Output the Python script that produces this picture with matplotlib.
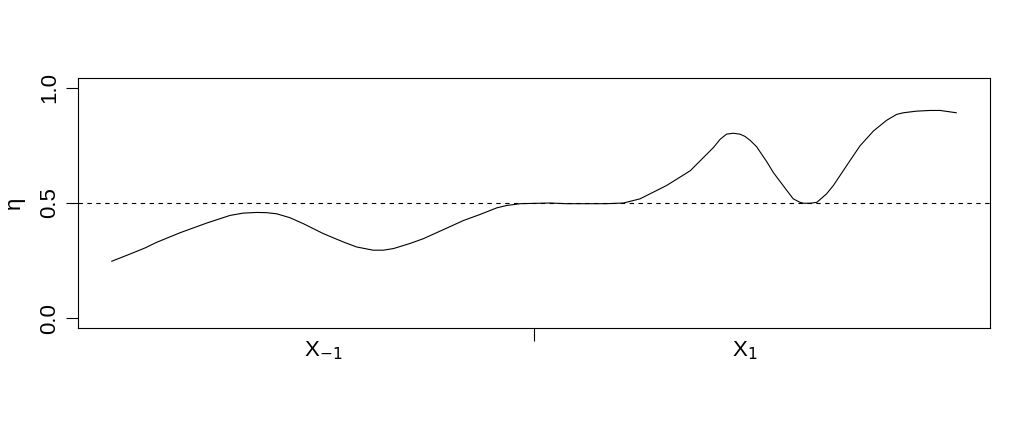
import matplotlib.pyplot as plt

plt.rcParams['font.family'] = ['Liberation Sans', 'DejaVu Sans']

# curve
x_vals = [-1.0, -0.949, -0.921, -0.894, -0.838, -0.775, -0.720, -0.689, -0.657, -0.633,
          -0.609, -0.578, -0.546, -0.499, -0.452, -0.420, -0.381, -0.357, -0.333, -0.294,
          -0.262, -0.215, -0.167, -0.128, -0.088, -0.065, -0.033, 0.038, 0.077, 0.172,
          0.212, 0.251, 0.314, 0.370, 0.425, 0.441, 0.456, 0.472, 0.488, 0.500,
          0.512, 0.527, 0.551, 0.567, 0.599, 0.614, 0.630, 0.638, 0.654, 0.670,
          0.693, 0.709, 0.748, 0.772, 0.804, 0.835, 0.859, 0.875, 0.906, 0.938,
          0.962, 0.985, 1.0]
eta_vals = [0.247, 0.284, 0.305, 0.329, 0.371, 0.413, 0.446, 0.456, 0.459, 0.458,
            0.453, 0.436, 0.410, 0.367, 0.331, 0.309, 0.295, 0.295, 0.302, 0.324,
            0.345, 0.384, 0.424, 0.450, 0.479, 0.489, 0.497, 0.500, 0.497, 0.497,
            0.500, 0.518, 0.576, 0.640, 0.741, 0.777, 0.799, 0.803, 0.799, 0.789,
            0.772, 0.745, 0.680, 0.632, 0.554, 0.518, 0.503, 0.499, 0.499, 0.503,
            0.540, 0.576, 0.683, 0.748, 0.813, 0.859, 0.885, 0.892, 0.899, 0.902,
            0.902, 0.896, 0.892]
y_ticks = [0.0, 0.5, 1.0]
y_tick_labels = ['0.0', '0.5', '1.0']
group_pos = [-0.5, 0.5]
group_labels = ['X$_{\u22121}$', 'X$_1$']
ref_level = 0.5

fig = plt.figure(figsize=(10.29, 4.26), dpi=100)
ax = fig.add_axes([78 / 1029, 98 / 426, 912 / 1029, 250 / 426])

ax.plot(x_vals, eta_vals, color='black', lw=0.8)
ax.axhline(ref_level, color='black', lw=0.8, linestyle=(0, (4, 4)))

ax.set_xlim(-1.08, 1.08)
ax.set_ylim(-0.043, 1.043)

ax.set_yticks(y_ticks)
ax.set_yticklabels(y_tick_labels, rotation=90, va='center', fontsize=16)
ax.tick_params(axis='y', length=9, width=0.8, pad=4)

ax.set_xticks([0.0])
ax.set_xticklabels([''])
ax.tick_params(axis='x', length=9, width=0.8)
for pos, lab in zip(group_pos, group_labels):
    ax.text(pos, -0.045, lab, transform=ax.get_xaxis_transform(),
            ha='center', va='top', fontsize=16)

ax.set_ylabel('\u03b7', fontsize=16, labelpad=10)

for sp in ax.spines.values():
    sp.set_linewidth(0.8)

fig.savefig('out.png', dpi=100)
